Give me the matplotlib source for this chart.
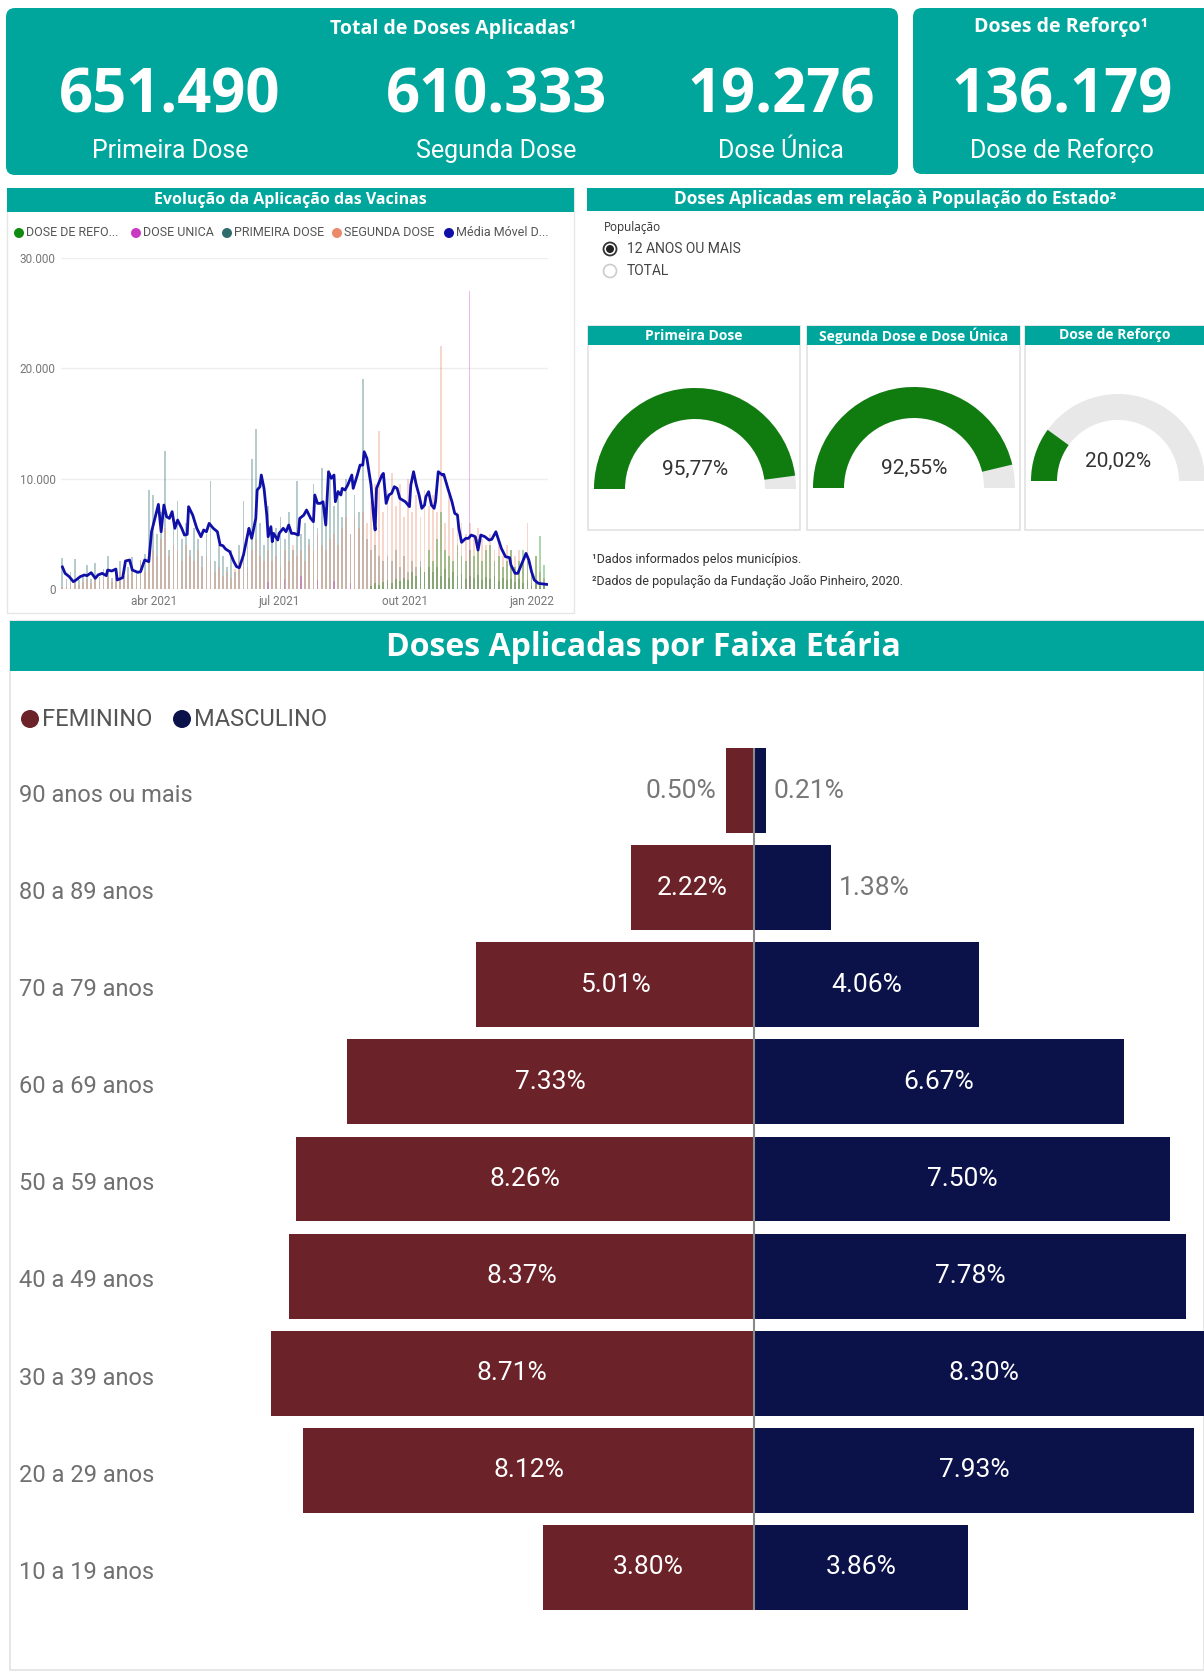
import numpy as np
import matplotlib.pyplot as plt
from matplotlib.patches import Wedge, Rectangle, FancyBboxPatch, Circle

W, H = 1204, 1671
TEAL = '#00A69C'
FEM_COR = '#6B2228'
MASC_COR = '#0B1249'
VERDE = '#107C10'
BOLD = ['Open Sans', 'DejaVu Sans']
NARROW = ['Roboto', 'DejaVu Sans']

# totais aplicados
totais_rotulos = ['Primeira Dose', 'Segunda Dose', 'Dose Única']
totais_valores = [651490, 610333, 19276]
reforco_rotulo = 'Dose de Reforço'
reforco_valor = 136179

# aplicações diárias (amostra a cada 3 dias a partir de 24/01/2021)
inicio = np.datetime64('2021-01-24')
dias_barras = np.arange(0, 352, 3)
primeira_dose = [
    2800, 900, 1500, 2700, 800, 1200, 2200, 900, 2400, 1100,
    1800, 3000, 1000, 1600, 2500, 1200, 2000, 2900, 1500, 2600,
    3200, 9000, 8500, 5000, 7000, 12500, 3500, 6500, 8000, 4500,
    6000, 3500, 5500, 4500, 3000, 5000, 9800, 2500, 4000, 3000,
    2000, 3500, 1500, 4000, 8000, 5500, 11800, 14500, 6000, 4000,
    7500, 4500, 5500, 6500, 4500, 7000, 3500, 9800, 5000, 6000,
    4500, 9500, 5500, 11000, 6000, 10500, 7500, 9000, 6500, 10000,
    5000, 8500, 7000, 19000, 4500, 3500, 4000, 3000, 2500, 3000,
    2500, 3500, 2000, 3000, 1500, 2500, 2000, 2500, 1500, 2000,
    1500, 2000, 1200, 1800, 1000, 1500, 1200, 1400, 900, 1200,
    1000, 1300, 800, 1100, 900, 1200, 700, 1000, 800, 900,
    600, 900, 500, 800, 400, 700, 300, 500]
segunda_dose = [
    200, 300, 500, 800, 400, 600, 900, 500, 1000, 700,
    800, 1200, 600, 1000, 1500, 900, 1300, 2000, 1200, 2500,
    1500, 2500, 3500, 3000, 4500, 5500, 3000, 4000, 3500, 2500,
    4000, 3000, 2500, 3500, 2000, 3000, 2500, 1500, 2000, 1200,
    1500, 1000, 1800, 2500, 3500, 2000, 3500, 4500, 3000, 2500,
    3500, 2500, 3000, 2000, 3500, 2500, 4000, 3000, 3500, 2500,
    4000, 3500, 5000, 4000, 3500, 4500, 5000, 4000, 5500, 6500,
    5000, 6500, 5500, 7000, 6000, 8000, 9500, 14300, 7000, 9000,
    10500, 7500, 9500, 6500, 10000, 7000, 8500, 6500, 9000, 7500,
    8500, 7000, 22000, 6000, 8500, 5500, 7000, 6000, 5000, 6000,
    5000, 5500, 4500, 4000, 5000, 3500, 4500, 3000, 4000, 3500,
    3000, 3500, 2500, 6000, 2000, 3000, 1500, 1000]
dias_reforco = np.arange(225, 352, 3)
dose_reforco = [
    300, 500, 400, 600, 800, 500, 900, 700, 1000, 800,
    1500, 1200, 2000, 1500, 3500, 2500, 4500, 7000, 3500, 3000,
    2500, 4000, 3000, 2500, 3500, 3000, 4500, 2500, 3500, 4000,
    2500, 3000, 2000, 2500, 3500, 2000, 2500, 3500, 2500, 1500,
    3000, 4800, 2200]
dias_unica = [150, 162, 174, 186, 198, 210, 297]
dose_unica = [600, 900, 1200, 800, 700, 500, 27000]

# média móvel
dias_mm = [
    0, 2, 5, 8, 10, 13, 16, 18, 21, 24,
    26, 29, 32, 33, 36, 39, 40, 44, 46, 49,
    51, 55, 57, 60, 63, 65, 68, 70, 72, 74,
    76, 78, 80, 82, 84, 87, 89, 91, 92, 95,
    98, 101, 103, 105, 107, 110, 113, 115, 117, 119,
    122, 125, 127, 129, 132, 134, 136, 138, 141, 142,
    144, 145, 147, 149, 150, 152, 153, 154, 157, 158,
    161, 163, 165, 167, 169, 172, 173, 176, 178, 181,
    183, 184, 186, 188, 190, 192, 194, 196, 198, 199,
    201, 203, 204, 206, 208, 211, 212, 215, 217, 219,
    220, 222, 225, 227, 228, 229, 231, 233, 234, 236,
    238, 240, 242, 244, 246, 248, 250, 253, 254, 256,
    258, 260, 262, 264, 265, 267, 269, 271, 272, 274,
    277, 278, 281, 284, 286, 288, 289, 291, 294, 296,
    298, 301, 303, 305, 308, 311, 313, 316, 318, 320,
    323, 326, 327, 330, 332, 335, 338, 340, 342, 344,
    347, 351, 353]
media_movel = [
    2000, 1420, 1120, 660, 820, 1120, 1270, 1210, 1480, 970,
    1270, 1420, 1210, 1720, 1630, 1810, 820, 1030, 2540, 2630,
    1720, 1510, 1570, 2630, 2480, 5190, 6700, 7670, 5190, 7610,
    6550, 6400, 7010, 5500, 6250, 5500, 4890, 4950, 7460, 6700,
    5500, 4740, 5350, 5190, 5950, 5500, 5190, 3990, 3930, 3620,
    3380, 2480, 2020, 1930, 3080, 4290, 5500, 4590, 6400, 8970,
    9270, 10330, 9120, 6700, 4740, 5650, 4290, 5040, 4440, 5040,
    5500, 5190, 5800, 5040, 5040, 4890, 6400, 6700, 7160, 6400,
    6100, 8520, 7760, 7760, 7910, 5800, 10630, 10030, 10330, 7910,
    8820, 8520, 9120, 8970, 9420, 10330, 9120, 10330, 11230, 11230,
    12440, 11840, 9420, 6400, 5350, 9120, 9720, 10330, 10480, 7760,
    8520, 8670, 9270, 9120, 8210, 8060, 7910, 7460, 9420, 10630,
    9420, 8520, 7310, 7610, 8370, 8820, 7610, 7310, 7910, 10630,
    10330, 10390, 9120, 7910, 6860, 6700, 5500, 4230, 4590, 4590,
    4890, 4740, 3530, 4890, 4740, 4440, 4500, 5190, 4440, 3680,
    2930, 2840, 2170, 1420, 1420, 2330, 3230, 2630, 1570, 820,
    510, 450, 420]

# cobertura vacinal
gauge_titulos = ['Primeira Dose', 'Segunda Dose e Dose Única', 'Dose de Reforço']
gauge_valores = [95.77, 92.55, 20.02]

# pirâmide etária
faixas = ['90 anos ou mais', '80 a 89 anos', '70 a 79 anos', '60 a 69 anos',
          '50 a 59 anos', '40 a 49 anos', '30 a 39 anos', '20 a 29 anos',
          '10 a 19 anos']
feminino = [0.50, 2.22, 5.01, 7.33, 8.26, 8.37, 8.71, 8.12, 3.80]
masculino = [0.21, 1.38, 4.06, 6.67, 7.50, 7.78, 8.30, 7.93, 3.86]


def milhar(v):
    return f'{v:,}'.replace(',', '.')


fig = plt.figure(figsize=(W / 100, H / 100), dpi=100)
fig.patch.set_facecolor('white')


def eixo_px(x0, y0, x1, y1):
    return fig.add_axes([x0 / W, 1 - y1 / H, (x1 - x0) / W, (y1 - y0) / H])


bg = eixo_px(0, 0, W, H)
bg.set_xlim(0, W)
bg.set_ylim(H, 0)
bg.axis('off')

# cartões do topo
bg.add_patch(FancyBboxPatch((6, 8), 892, 167, boxstyle='round,pad=0,rounding_size=9',
                            fc=TEAL, ec='none'))
bg.add_patch(FancyBboxPatch((913, 8), 300, 166, boxstyle='round,pad=0,rounding_size=9',
                            fc=TEAL, ec='none'))
bg.text(453, 29, 'Total de Doses Aplicadas¹', ha='center', va='center', color='white',
        fontsize=14, fontweight='bold', family=BOLD)
bg.text(1061, 27, 'Doses de Reforço¹', ha='center', va='center', color='white',
        fontsize=14, fontweight='bold', family=BOLD)
for cx, rot, val in zip([170, 496, 781], totais_rotulos, totais_valores):
    bg.text(cx, 97, milhar(val), ha='center', va='center', color='white',
            fontsize=43, fontweight='bold', family=BOLD)
    bg.text(cx, 151, rot, ha='center', va='center', color='white',
            fontsize=18, family=NARROW)
bg.text(1062, 97, milhar(reforco_valor), ha='center', va='center', color='white',
        fontsize=43, fontweight='bold', family=BOLD)
bg.text(1062, 151, reforco_rotulo, ha='center', va='center', color='white',
        fontsize=18, family=NARROW)

# painel da evolução
bg.add_patch(Rectangle((7, 188), 567, 425, fc='white', ec='#E6E6E6', lw=1))
bg.add_patch(Rectangle((7, 188), 567, 24, fc=TEAL, ec='none'))
bg.text(290, 200, 'Evolução da Aplicação das Vacinas', ha='center', va='center',
        color='white', fontsize=11.5, fontweight='bold', family=BOLD)
leg_itens = [('DOSE DE REFO...', '#118A11'), ('DOSE UNICA', '#C93BC3'),
             ('PRIMEIRA DOSE', '#2F6D6D'), ('SEGUNDA DOSE', '#EA8A6A'),
             ('Média Móvel D...', '#1010A8')]
for x, (txt, cor) in zip([19, 136, 227, 337, 449], leg_itens):
    bg.add_patch(Circle((x, 233), 5, fc=cor, ec='none'))
    bg.text(x + 7, 233, txt, ha='left', va='center', color='#555555',
            fontsize=9, family=NARROW)

ax = eixo_px(61, 258, 548, 589)
ax.set_facecolor('none')
d_barras = inicio + dias_barras
ax.bar(d_barras, primeira_dose, width=1.3, color='#2F6D6D', alpha=0.35, lw=0)
ax.bar(d_barras, segunda_dose, width=1.3, color='#EA8A6A', alpha=0.35, lw=0)
ax.bar(inicio + dias_reforco, dose_reforco, width=1.3, color='#118A11', alpha=0.35, lw=0)
ax.bar(inicio + np.array(dias_unica), dose_unica, width=1.0, color='#C93BC3',
       alpha=0.35, lw=0)
ax.plot(inicio + np.array(dias_mm), media_movel, color='#1010A8', lw=2)
ax.set_xlim(inicio - np.timedelta64(1, 'D'), inicio + np.timedelta64(354, 'D'))
ax.set_ylim(0, 30000)
ax.set_yticks([0, 10000, 20000, 30000])
ax.set_yticklabels(['0', '10.000', '20.000', '30.000'])
ax.set_xticks([np.datetime64('2021-04-01'), np.datetime64('2021-07-01'),
               np.datetime64('2021-10-01'), np.datetime64('2022-01-01')])
ax.set_xticklabels(['abr 2021', 'jul 2021', 'out 2021', 'jan 2022'])
ax.grid(axis='y', color='#EEEEEE', lw=1)
ax.set_axisbelow(True)
for s in ax.spines.values():
    s.set_visible(False)
ax.tick_params(length=0, labelsize=8.5, labelcolor='#777777', pad=4)
for t in ax.get_xticklabels() + ax.get_yticklabels():
    t.set_family(NARROW)

# painel da população
bg.add_patch(Rectangle((587, 188), W - 587, 23, fc=TEAL, ec='none'))
bg.text(895, 199, 'Doses Aplicadas em relação à População do Estado²', ha='center',
        va='center', color='white', fontsize=12.5, fontweight='bold', family=BOLD)
bg.text(604, 227, 'População', ha='left', va='center', color='#333333', fontsize=8.5,
        family=BOLD)
bg.add_patch(Circle((610, 249), 6.5, fc='white', ec='#333333', lw=1.3))
bg.add_patch(Circle((610, 249), 4, fc='#222222', ec='none'))
bg.text(627, 249, '12 ANOS OU MAIS', ha='left', va='center', color='#444444',
        fontsize=10, family=NARROW)
bg.add_patch(Circle((610, 271), 6.5, fc='white', ec='#CCCCCC', lw=1.2))
bg.text(627, 271, 'TOTAL', ha='left', va='center', color='#444444',
        fontsize=10, family=NARROW)

cartoes = [(588, 800), (807, 1020), (1025, 1210)]
centros = [(695, 489, 101, 31), (914, 488, 101, 31), (1118, 481, 87, 26)]
for (x0, x1), tit, val, (cx, cy, r, w) in zip(cartoes, gauge_titulos, gauge_valores, centros):
    bg.add_patch(Rectangle((x0, 326), x1 - x0, 204, fc='white', ec='#E2E2E2', lw=1.2))
    bg.add_patch(Rectangle((x0, 326), x1 - x0, 19, fc=TEAL, ec='none'))
    bg.text((x0 + min(x1, W)) / 2, 335.5, tit, ha='center', va='center', color='white',
            fontsize=10, fontweight='bold', family=BOLD)
    bg.add_patch(Wedge((cx, cy), r, -180, 0, width=w, fc='#E8E8E8', ec='none'))
    bg.add_patch(Wedge((cx, cy), r, -180, -180 + 1.8 * val, width=w, fc=VERDE, ec='none'))
    bg.text(cx, cy - 20, f'{val:.2f}%'.replace('.', ','), ha='center', va='center',
            color='#333333', fontsize=15, family=NARROW)

bg.text(592, 559, '¹Dados informados pelos municípios.', ha='left', va='center',
        color='#333333', fontsize=9, family=NARROW)
bg.text(592, 581, '²Dados de população da Fundação João Pinheiro, 2020.', ha='left',
        va='center', color='#333333', fontsize=9, family=NARROW)

# painel da pirâmide
bg.add_patch(Rectangle((10, 621), W - 10, 1049, fc='white', ec='#E2E2E2', lw=1.2))
bg.add_patch(Rectangle((10, 621), W - 10, 50, fc=TEAL, ec='none'))
bg.text(643, 648, 'Doses Aplicadas por Faixa Etária', ha='center', va='center',
        color='white', fontsize=23, fontweight='bold', family=BOLD)
bg.add_patch(Circle((30, 719), 9, fc=FEM_COR, ec='none'))
bg.text(42, 719, 'FEMININO', ha='left', va='center', color='#555555', fontsize=17,
        family=NARROW)
bg.add_patch(Circle((182, 719), 9, fc=MASC_COR, ec='none'))
bg.text(194, 719, 'MASCULINO', ha='left', va='center', color='#555555', fontsize=17,
        family=NARROW)

px_pct = 55.5
linha0, passo = 790.6, 97.1
axp = eixo_px(10, 671, W, H)
axp.set_facecolor('none')
axp.axis('off')
axp.set_xlim(-(754 - 10) / px_pct, (W - 754) / px_pct)
axp.set_ylim((H - linha0) / passo, (671 - linha0) / passo)
y = np.arange(len(faixas))
fem = np.array(feminino)
masc = np.array(masculino)
axp.barh(y, -fem, height=0.875, color=FEM_COR, lw=0)
axp.barh(y, masc, height=0.875, color=MASC_COR, lw=0)
axp.vlines(0, -0.44, len(faixas) - 0.56, color='#8A8A8A', lw=1.5)
for i, (f, m) in enumerate(zip(fem, masc)):
    if f >= 2:
        axp.text(-f / 2, i, f'{f:.2f}%', ha='center', va='center', color='white',
                 fontsize=19, family=NARROW)
    else:
        axp.text(-f - 0.18, i, f'{f:.2f}%', ha='right', va='center', color='#777777',
                 fontsize=19, family=NARROW)
    if m >= 2:
        axp.text(m / 2, i, f'{m:.2f}%', ha='center', va='center', color='white',
                 fontsize=19, family=NARROW)
    else:
        axp.text(m + 0.14, i, f'{m:.2f}%', ha='left', va='center', color='#777777',
                 fontsize=19, family=NARROW)
    axp.text(0.0075, i + 0.05, faixas[i], transform=axp.get_yaxis_transform(),
             ha='left', va='center', color='#707070', fontsize=17, family=NARROW)

fig.savefig('out.png', dpi=100, facecolor='white')
